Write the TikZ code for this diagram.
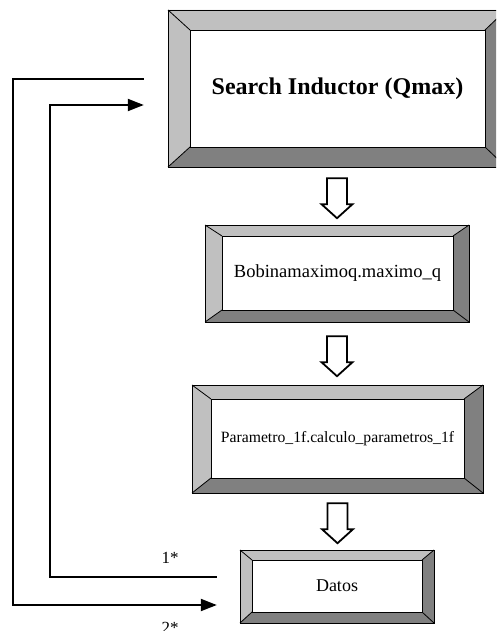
\documentclass[tikz,border=0pt]{standalone}
\usepackage{fontspec}
\setmainfont{Liberation Serif}
\usetikzlibrary{arrows.meta,calc}

\definecolor{bevellight}{HTML}{C0C0C0}
\definecolor{beveldark}{HTML}{808080}

\tikzset{
  bevelline/.style={draw=black, line width=0.8pt},
  feedback/.style={draw=black, line width=2pt},
  fbtip/.style={-{Triangle[length=16pt,width=12pt]}},
  hollow/.style={draw=black, fill=white, line width=1.8pt, line join=miter},
  boxtext/.style={text=black, inner sep=0pt, align=center},
  starlabel/.style={text=black, inner sep=0pt, font=\fontsize{17}{20}\selectfont},
  pics/downarrow/.style={code={
    \path[hollow] (-10,0) -- (10,0) -- (10,26) -- (15.5,26) -- (0,40)
      -- (-15.5,26) -- (-10,26) -- cycle;
  }},
}

% #1 name, #2-#5 outer corners (x1,y1,x2,y2), #6-#9 inner corners
\newcommand\bevelbox[9]{%
  \fill[bevellight] (#2,#3) -- (#4,#3) -- (#8,#7) -- (#6,#7) -- cycle;
  \fill[bevellight] (#2,#3) -- (#6,#7) -- (#6,#9) -- (#2,#5) -- cycle;
  \fill[beveldark]  (#2,#5) -- (#6,#9) -- (#8,#9) -- (#4,#5) -- cycle;
  \fill[beveldark]  (#4,#3) -- (#4,#5) -- (#8,#9) -- (#8,#7) -- cycle;
  \draw[bevelline] (#2,#3) rectangle (#4,#5);
  \draw[bevelline, fill=white] (#6,#7) rectangle (#8,#9);
  \draw[bevelline] (#2,#3) -- (#6,#7) (#4,#3) -- (#8,#7)
                   (#2,#5) -- (#6,#9) (#4,#5) -- (#8,#9);
  \node[inner sep=0pt, minimum width=#4pt-#2pt, minimum height=#5pt-#3pt]
    (#1) at ($(#2,#3)!0.5!(#4,#5)$) {};
  \coordinate (#1-in) at ($(#6,#7)!0.5!(#8,#9)$);
}

\begin{document}
\begin{tikzpicture}[x=1pt, y=-1pt]
  \path[use as bounding box, clip] (0,0) rectangle (496,631);

  % process blocks
  \bevelbox{search}{168}{10}{506}{167}{190}{30}{485}{147}
  \node[boxtext, font=\fontsize{24}{28}\selectfont\bfseries]
    (search-label) at (search-in) {Search Inductor (Qmax)};

  \bevelbox{bobina}{205}{225}{469}{322}{222}{236}{453}{310}
  \node[boxtext, font=\fontsize{18.5}{22}\selectfont]
    (bobina-label) at (bobina-in) {Bobinamaximoq.maximo\_q};

  \bevelbox{param}{192}{385}{483}{493}{211}{399}{464}{478}
  \node[boxtext, font=\fontsize{15.7}{19}\selectfont]
    (param-label) at (param-in) {Parametro\_1f.calculo\_parametros\_1f};

  \bevelbox{datos}{240}{550}{434}{623}{252}{560}{422}{612}
  \node[boxtext, font=\fontsize{18}{22}\selectfont]
    (datos-label) at (datos-in) {Datos};

  % block arrows between stages
  \pic at ($(search.south)+(0,11)$) {downarrow};
  \pic at ($(bobina.south)+(0,14)$) {downarrow};
  \pic at ($(param.south)+(0,10)$) {downarrow};

  % feedback loops
  \coordinate (outA) at ($(search.west)+(-24,-9.5)$);
  \coordinate (outB) at ($(datos.west)+(-23,18.5)$);
  \coordinate (inA)  at ($(datos.west)+(-23,-9.5)$);
  \coordinate (inB)  at ($(search.west)+(-24,16.5)$);
  \coordinate (railOut) at (13,0);
  \coordinate (railIn)  at (50,0);

  \draw[feedback, fbtip] (outA) -- (outA -| railOut) -- (railOut |- outB) -- (outB);
  \draw[feedback, fbtip] (inA) -- (inA -| railIn) -- (railIn |- inB) -- (inB);

  \node[starlabel] (lbl1) at (170,558) {1*};
  \node[starlabel] (lbl2) at (170,628) {2*};
\end{tikzpicture}
\end{document}
